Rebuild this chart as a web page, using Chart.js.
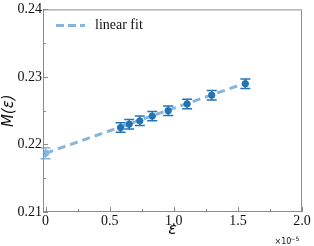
<!DOCTYPE html>
<html>
<head>
<meta charset="utf-8">
<script src="https://cdn.jsdelivr.net/npm/chart.js@4"></script>
<style>
  html, body { margin: 0; padding: 0; background: #fff; }
  #wrap { width: 314px; height: 246px; }
</style>
</head>
<body>
<div id="wrap"><canvas id="chart" width="314" height="246"></canvas></div>
<script>
// measured points, x in units of 1e-5
const epsValues = [0.585, 0.652, 0.735, 0.832, 0.956, 1.104, 1.296, 1.558];
const mValues = [0.2225, 0.2230, 0.2235, 0.2242, 0.2250, 0.2260, 0.2273, 0.2290];
const mErrors = [0.0007, 0.0007, 0.0007, 0.0007, 0.0007, 0.0007, 0.0007, 0.0007];

// extrapolated value at eps = 0
const extrapEps = [0];
const extrapM = [0.2187];
const extrapErr = [0.0008];

// linear fit end points
const fitEps = [0, 1.56];
const fitM = [0.2187, 0.2291];

const xTicks = [0, 0.5, 1.0, 1.5, 2.0];
const xTickLabels = ["0", "0.5", "1.0", "1.5", "2.0"];
const xMinor = [0.25, 0.75, 1.25, 1.75];
const yTicks = [0.21, 0.22, 0.23, 0.24];
const yTickLabels = ["0.21", "0.22", "0.23", "0.24"];
const yMinor = [0.215, 0.225, 0.235];

const dark = '#2374b5';
const light = '#86b6de';
const axisGray = '#8c8c8c';

// error bars, inward ticks, frame, legend and exponent note
const extras = {
  id: 'extras',
  beforeDatasetsDraw(chart) {
    const ctx = chart.ctx;
    const x = chart.scales.x, y = chart.scales.y;
    const bars = (xs, ys, es, color) => {
      ctx.save();
      ctx.strokeStyle = color;
      ctx.lineWidth = 1.5;
      xs.forEach((v, i) => {
        const px = x.getPixelForValue(v);
        const top = y.getPixelForValue(ys[i] + es[i]);
        const bot = y.getPixelForValue(ys[i] - es[i]);
        ctx.beginPath();
        ctx.moveTo(px, top); ctx.lineTo(px, bot);
        ctx.moveTo(px - 5, top); ctx.lineTo(px + 5, top);
        ctx.moveTo(px - 5, bot); ctx.lineTo(px + 5, bot);
        ctx.stroke();
      });
      ctx.restore();
    };
    bars(extrapEps, extrapM, extrapErr, light);
    bars(epsValues, mValues, mErrors, dark);
  },
  afterDraw(chart) {
    const ctx = chart.ctx;
    const a = chart.chartArea;
    const x = chart.scales.x, y = chart.scales.y;
    ctx.save();
    ctx.strokeStyle = axisGray;
    ctx.lineWidth = 1;
    ctx.strokeRect(a.left + 0.5, a.top + 0.5, a.right - a.left - 1, a.bottom - a.top - 1);
    ctx.beginPath();
    xTicks.forEach(v => {
      const px = Math.round(x.getPixelForValue(v)) + 0.5;
      ctx.moveTo(px, a.bottom); ctx.lineTo(px, a.bottom - 5);
    });
    xMinor.forEach(v => {
      const px = Math.round(x.getPixelForValue(v)) + 0.5;
      ctx.moveTo(px, a.bottom); ctx.lineTo(px, a.bottom - 3);
    });
    yTicks.forEach(v => {
      const py = Math.round(y.getPixelForValue(v)) + 0.5;
      ctx.moveTo(a.left, py); ctx.lineTo(a.left + 5, py);
    });
    yMinor.forEach(v => {
      const py = Math.round(y.getPixelForValue(v)) + 0.5;
      ctx.moveTo(a.left, py); ctx.lineTo(a.left + 3, py);
    });
    ctx.stroke();

    // legend
    ctx.strokeStyle = light;
    ctx.lineWidth = 3;
    ctx.setLineDash([8, 4]);
    ctx.beginPath();
    ctx.moveTo(a.left + 13, 25.5); ctx.lineTo(a.left + 42, 25.5);
    ctx.stroke();
    ctx.setLineDash([]);
    ctx.fillStyle = '#111';
    ctx.font = '14px "Liberation Serif"';
    ctx.textBaseline = 'middle';
    ctx.fillText('linear fit', a.left + 52, 25);

    // exponent
    ctx.font = '8px "DejaVu Sans"';
    ctx.textAlign = 'center';
    ctx.fillText('×10', 283, 242);
    ctx.font = '6px "DejaVu Sans"';
    ctx.fillText('−5', 295, 239);
    ctx.restore();
  }
};

new Chart(document.getElementById('chart'), {
  type: 'scatter',
  data: {
    datasets: [
      {
        type: 'line',
        label: 'linear fit',
        data: fitEps.map((v, i) => ({ x: v, y: fitM[i] })),
        borderColor: light,
        borderWidth: 3,
        borderDash: [8, 5],
        pointRadius: 0,
        fill: false,
        order: 3
      },
      {
        label: 'extrapolated',
        data: extrapEps.map((v, i) => ({ x: v, y: extrapM[i] })),
        backgroundColor: light,
        borderColor: light,
        pointRadius: 3.2,
        order: 2
      },
      {
        label: 'data',
        data: epsValues.map((v, i) => ({ x: v, y: mValues[i] })),
        backgroundColor: dark,
        borderColor: dark,
        pointRadius: 3.2,
        order: 1
      }
    ]
  },
  options: {
    responsive: false,
    animation: false,
    layout: { padding: { top: 7, right: 12, left: 0, bottom: 0 } },
    plugins: { legend: { display: false }, tooltip: { enabled: false } },
    scales: {
      x: {
        type: 'linear',
        min: -0.02,
        max: 2.0,
        afterBuildTicks: s => { s.ticks = xTicks.map(v => ({ value: v })); },
        afterFit: s => { s.height = 34; },
        grid: { display: false, drawTicks: false },
        border: { display: false },
        ticks: {
          padding: 1,
          color: '#111',
          font: { family: 'Liberation Serif', size: 14 },
          callback: (v) => xTickLabels[xTicks.indexOf(v)]
        },
        title: {
          display: true,
          text: 'ε',
          color: '#111',
          padding: { top: 0, bottom: 7 },
          font: { family: 'DejaVu Sans', size: 16, style: 'italic' }
        }
      },
      y: {
        type: 'linear',
        min: 0.21,
        max: 0.24,
        afterBuildTicks: s => { s.ticks = yTicks.map(v => ({ value: v })); },
        afterFit: s => { s.width = 43; },
        grid: { display: false, drawTicks: false },
        border: { display: false },
        ticks: {
          padding: 1,
          color: '#111',
          font: { family: 'Liberation Serif', size: 14 },
          callback: (v) => yTickLabels[yTicks.findIndex(t => Math.abs(t - v) < 1e-9)]
        },
        title: {
          display: true,
          text: 'M(ε)',
          color: '#111',
          padding: { top: 0, bottom: 0 },
          font: { family: 'DejaVu Sans', size: 15, style: 'italic' }
        }
      }
    }
  },
  plugins: [extras]
});
</script>
</body>
</html>
